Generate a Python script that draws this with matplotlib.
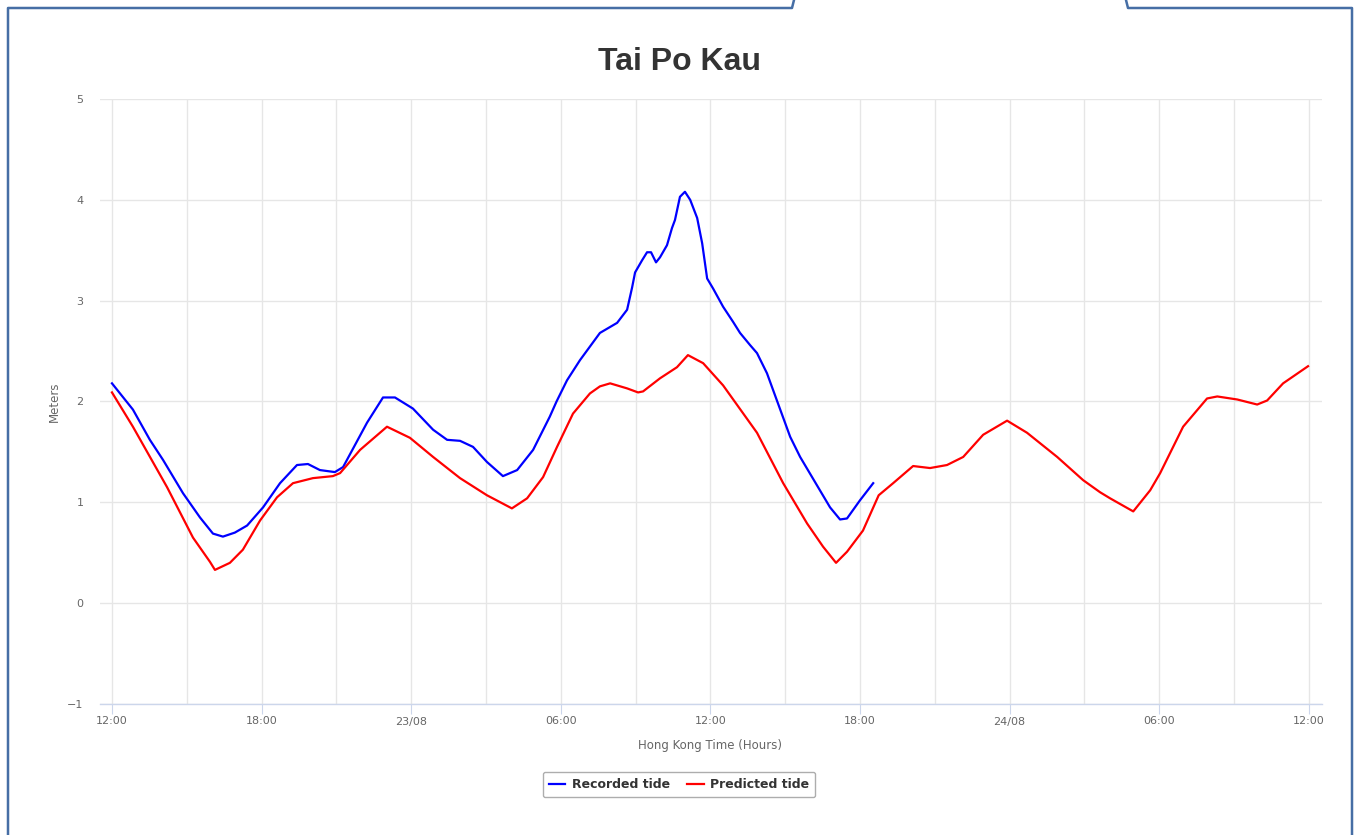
import matplotlib

matplotlib.use("Agg")
import matplotlib.pyplot as plt
from matplotlib.lines import Line2D

# Hours counted from 12:00 on 22/08
rec_hours = [
    0.00, 0.84, 1.52, 2.05, 2.85, 3.53, 4.05, 4.45, 4.93, 5.42, 6.06, 6.74,
    7.42, 7.86, 8.34, 8.94, 9.27, 9.75, 10.23, 10.87, 11.35, 12.07, 12.88,
    13.44, 13.96, 14.48, 15.04, 15.68, 16.25, 16.89, 17.56, 17.83, 18.25,
    18.77, 19.57, 20.26, 20.66, 20.86, 20.98, 21.26, 21.46, 21.62, 21.82,
    21.98, 22.26, 22.46, 22.58, 22.78, 22.98, 23.19, 23.47, 23.67, 23.87,
    24.11, 24.51, 24.91, 25.19, 25.59, 25.87, 26.27, 27.20, 27.60, 28.80,
    29.20, 29.48, 30.00, 30.53,
]
rec_level = [
    2.18, 1.92, 1.62, 1.42, 1.09, 0.85, 0.69, 0.66, 0.70, 0.77, 0.95, 1.19,
    1.37, 1.38, 1.32, 1.30, 1.35, 1.57, 1.79, 2.04, 2.04, 1.93, 1.72,
    1.62, 1.61, 1.55, 1.40, 1.26, 1.32, 1.52, 1.85, 2.00, 2.21,
    2.41, 2.68, 2.78, 2.91, 3.13, 3.28, 3.40, 3.48, 3.48, 3.38,
    3.43, 3.55, 3.72, 3.80, 4.03, 4.08, 4.00, 3.82, 3.57, 3.22,
    3.12, 2.94, 2.79, 2.68, 2.56, 2.48, 2.28, 1.65, 1.45, 0.95,
    0.83, 0.84, 1.02, 1.19,
]

pred_hours = [
    0.00, 0.84, 2.21, 3.25, 3.93, 4.13, 4.73, 5.25, 5.94, 6.62, 7.26, 8.06,
    8.86, 9.15, 9.95, 11.03, 11.95, 12.88, 13.96, 15.04, 16.04, 16.65, 17.29,
    17.85, 18.49, 19.17, 19.57, 19.98, 20.66, 21.10, 21.30, 21.98, 22.66,
    23.10, 23.71, 24.51, 25.87, 26.92, 27.88, 28.52, 29.04, 29.48, 30.12,
    30.75, 31.33, 32.13, 32.81, 33.49, 34.14, 34.94, 35.90, 36.70, 37.91,
    38.95, 39.63, 40.03, 40.96, 41.64, 42.04, 42.96, 43.92, 44.33, 45.13,
    45.93, 46.33, 46.97, 47.97,
]
pred_level = [
    2.09, 1.75, 1.15, 0.65, 0.41, 0.33, 0.40, 0.53, 0.82, 1.05, 1.19, 1.24,
    1.26, 1.29, 1.52, 1.75, 1.64, 1.45, 1.24, 1.07, 0.94, 1.04, 1.25,
    1.55, 1.88, 2.08, 2.15, 2.18, 2.13, 2.09, 2.10, 2.23, 2.34,
    2.46, 2.38, 2.16, 1.69, 1.19, 0.79, 0.56, 0.40, 0.51, 0.72,
    1.07, 1.19, 1.36, 1.34, 1.37, 1.45, 1.67, 1.81, 1.69, 1.45,
    1.22, 1.10, 1.04, 0.91, 1.12, 1.29, 1.75, 2.03, 2.05, 2.02,
    1.97, 2.01, 2.18, 2.35,
]

tick_hours = [0, 6, 12, 18, 24, 30, 36, 42, 48]
tick_labels = ["12:00", "18:00", "23/08", "06:00", "12:00",
               "18:00", "24/08", "06:00", "12:00"]
grid_hours = list(range(0, 49, 3))
y_ticks = [-1, 0, 1, 2, 3, 4, 5]

W, H = 1361, 835
plt.rcParams["font.family"] = ["DejaVu Sans"]

fig = plt.figure(figsize=(W / 100, H / 100), dpi=100)
ax = fig.add_axes([100 / W, 1 - 704 / H, 1222 / W, 605 / H])
ax.set_xlim(-0.48, 48.53)
ax.set_ylim(-1, 5)

# grid
ax.vlines(grid_hours, -1, 5, colors="#e6e6e6", linewidth=1, zorder=0)
ax.set_yticks(y_ticks)
ax.yaxis.grid(True, color="#e6e6e6", linewidth=1)
ax.set_axisbelow(True)

for side in ["top", "right", "left"]:
    ax.spines[side].set_visible(False)
ax.spines["bottom"].set_color("#ccd6eb")
ax.spines["bottom"].set_linewidth(1)

ax.set_xticks(tick_hours)
ax.set_xticklabels(tick_labels)
ax.tick_params(axis="x", length=7, color="#ccd6eb", pad=2,
               labelsize=8, labelcolor="#666666")
ax.tick_params(axis="y", length=0, pad=12, labelsize=8, labelcolor="#666666")

ax.plot(rec_hours, rec_level, color="#0000ff", linewidth=1.6,
        label="Recorded tide")
ax.plot(pred_hours, pred_level, color="#ff0000", linewidth=1.6,
        label="Predicted tide")

fig.text(679 / W, 1 - 62 / H, "Tai Po Kau", ha="center", va="center",
         fontsize=23, fontweight="bold", color="#333333",
         family=["Liberation Sans", "DejaVu Sans"])
fig.text(710 / W, 1 - 745 / H, "Hong Kong Time (Hours)", ha="center",
         va="center", fontsize=8.5, color="#666666")
fig.text(54 / W, 1 - 402 / H, "Meters", ha="center", va="center",
         rotation=90, fontsize=8.5, color="#666666")

leg = fig.legend(loc="center", bbox_to_anchor=(679 / W, 1 - 784.5 / H),
                 ncol=2, frameon=True, fancybox=True, handlelength=1.3,
                 handletextpad=0.5, columnspacing=1.4, borderpad=0.5,
                 prop={"size": 9, "weight": "bold"})
leg.get_frame().set_edgecolor("#999999")
leg.get_frame().set_linewidth(1)
for t in leg.get_texts():
    t.set_color("#333333")

# page frame with the tab cut-out at the top
border = "#466ea5"
fig.add_artist(Line2D([8 / W, 8 / W, 792 / W, 794 / W],
                      [0, 1 - 8 / H, 1 - 8 / H, 1],
                      color=border, linewidth=1.8))
fig.add_artist(Line2D([1126 / W, 1128 / W, 1352 / W, 1352 / W],
                      [1, 1 - 8 / H, 1 - 8 / H, 0],
                      color=border, linewidth=1.8))

fig.savefig("out.png", dpi=100)
